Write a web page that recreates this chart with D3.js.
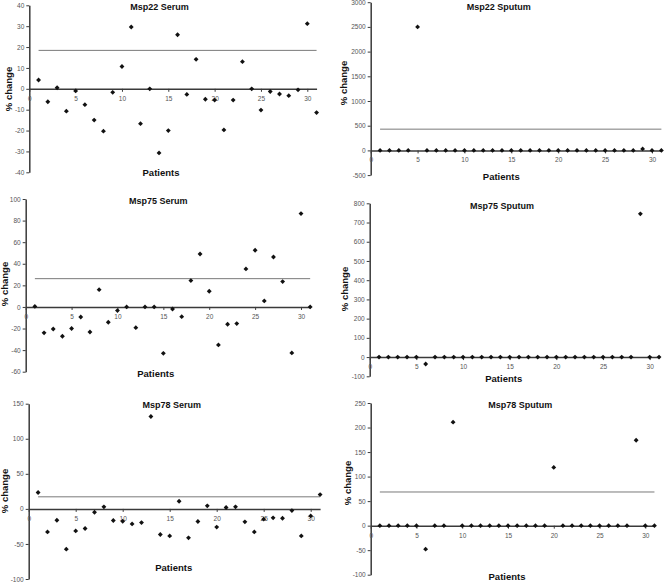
<!DOCTYPE html>
<html>
<head>
<meta charset="utf-8">
<script src="https://cdn.jsdelivr.net/npm/d3@7"></script>
<style>
  html, body { margin: 0; padding: 0; background: #fff; }
  svg { display: block; font-family: "Liberation Sans", Arial, sans-serif; }
</style>
</head>
<body>
<svg id="chart" width="664" height="582"></svg>
<script>
// ---- data ----
const patients = d3.range(1, 32);
const titles = ["Msp22 Serum", "Msp22 Sputum", "Msp75 Serum", "Msp75 Sputum", "Msp78 Serum", "Msp78 Sputum"];
const msp22Serum = [4.2, -6.2, 0.5, -10.7, -1, -7.6, -15, -20.3, -1.7, 10.7, 29.6, -16.7, 0, -30.7, -20, 25.9, -2.7, 14.1, -5, -5.4, -19.7, -5.4, 13, 0, -10.2, -1.3, -2.5, -3.3, -0.5, 31.2, -11.4];
const msp22Sputum = [0, 0, 0, 0, 2500, 0, 0, 0, 0, 0, 0, 0, 0, 0, 0, 0, 0, 0, 0, 0, 0, 0, 0, 0, 0, 0, 0, 0, 30, 0, 0];
const msp75Serum = [0.5, -24, -20.4, -27.2, -20, -9.3, -23.2, 16, -14.2, -3.4, 0, -19.2, 0, 0, -43, -1.9, -9, 24.4, 49, 14.5, -35.2, -16, -15.4, 35.2, 52.5, 5.6, 46.3, 23.5, -42.6, 86.5, 0];
const msp75Sputum = [0, 0, 0, 0, 0, -36, 0, 0, 0, 0, 0, 0, 0, 0, 0, 0, 0, 0, 0, 0, 0, 0, 0, 0, 0, 0, 0, 0, 745, 0, 0];
const msp78Serum = [23.3, -32.8, -16.2, -57.5, -31.4, -28, -4.8, 2.9, -16.6, -17.6, -21.4, -19.5, 131.7, -36.6, -38.5, 10.9, -41.3, -18, 4.3, -26, 1.9, 2.9, -18.5, -32.8, -14.7, -12.8, -13.3, -2.4, -38.5, -10, 20.4];
const msp78Sputum = [0, 0, 0, 0, 0, -48, 0, 0, 211, 0, 0, 0, 0, 0, 0, 0, 0, 0, 0, 118.7, 0, 0, 0, 0, 0, 0, 0, 0, 174, 0, 0];
const series = [msp22Serum, msp22Sputum, msp75Serum, msp75Sputum, msp78Serum, msp78Sputum];
const thresholds = [18.4, 430, 26.2, null, 17.2, 68.6];
const yDomains = [[-40, 40], [-500, 3000], [-60, 100], [-100, 800], [-100, 150], [-100, 250]];
const yTickSteps = [10, 500, 20, 100, 50, 50];
const xTickValues = [0, 5, 10, 15, 20, 25, 30];
const xLabel = "Patients";
const yLabel = "% change";

// ---- layout (pixel positions) ----
const layout = [
  { axisX: 29.3, x30: 307.3, yTop: 5.3, yBot: 172.3, titleX: 159.5, titleY: 7, patX: 161, patY: 172, labX: 8.5, labY: 89 },
  { axisX: 370.7, x30: 652, yTop: 2.2, yBot: 175.1, titleX: 498.7, titleY: 7, patX: 501.3, patY: 176.7, labX: 343.7, labY: 83 },
  { axisX: 25.7, x30: 301, yTop: 199, yBot: 371.7, titleX: 158.3, titleY: 200.7, patX: 155.7, patY: 373, labX: 4.5, labY: 284 },
  { axisX: 369.7, x30: 649.7, yTop: 203.3, yBot: 376.3, titleX: 502, titleY: 206.3, patX: 503.7, patY: 378, labX: 344.7, labY: 289 },
  { axisX: 28.7, x30: 310.7, yTop: 403.7, yBot: 579, titleX: 171.7, titleY: 404.7, patX: 173.7, patY: 567, labX: 4.5, labY: 491 },
  { axisX: 370.7, x30: 645.3, yTop: 403, yBot: 574.7, titleX: 520.3, titleY: 404.7, patX: 507, patY: 576.3, labX: 347, labY: 483 }
];

const svg = d3.select("#chart");
const axisColor = "#3a3a3a";
const tickTextColor = "#555";
const fmt = d => String(d);

series.forEach((vals, i) => {
  const L = layout[i];
  const x = d3.scaleLinear().domain([0, 31]).range([L.axisX, L.axisX + 31 * (L.x30 - L.axisX) / 30]);
  const y = d3.scaleLinear().domain(yDomains[i]).range([L.yBot, L.yTop]);
  const g = svg.append("g");

  // y axis
  const [y0, y1] = yDomains[i];
  const yTicks = d3.range(y0, y1 + yTickSteps[i] / 2, yTickSteps[i]);
  const ya = g.append("g").attr("transform", `translate(${L.axisX},0)`)
    .call(d3.axisLeft(y).tickValues(yTicks).tickFormat(fmt).tickSize(3).tickSizeOuter(0).tickPadding(2));
  ya.select(".domain").attr("stroke", axisColor).attr("stroke-width", 1.5);
  ya.selectAll(".tick line").attr("stroke", axisColor).attr("stroke-width", 1);
  ya.selectAll(".tick text").attr("fill", tickTextColor).style("font-size", "6.5px").style("font-family", "Liberation Sans, Arial, sans-serif");

  // x axis at zero
  const xa = g.append("g").attr("transform", `translate(0,${y(0)})`)
    .call(d3.axisBottom(x).tickValues(xTickValues).tickFormat(fmt).tickSize(3).tickSizeOuter(0).tickPadding(4.4));
  xa.select(".domain").attr("stroke", axisColor).attr("stroke-width", 1.5);
  xa.selectAll(".tick line").attr("stroke", axisColor).attr("stroke-width", 1);
  xa.selectAll(".tick text").attr("fill", tickTextColor).style("font-size", "6.5px").style("font-family", "Liberation Sans, Arial, sans-serif");

  // threshold line
  if (thresholds[i] !== null) {
    g.append("line")
      .attr("x1", x(1)).attr("x2", x(31))
      .attr("y1", y(thresholds[i])).attr("y2", y(thresholds[i]))
      .attr("stroke", "#7a7a7a").attr("stroke-width", 1);
  }

  // points
  g.selectAll("path.pt").data(vals).enter().append("path")
    .attr("class", "pt")
    .attr("d", d3.symbol().type(d3.symbolDiamond2).size(15))
    .attr("transform", (d, k) => `translate(${x(patients[k])},${y(d)})`)
    .attr("fill", "#111");

  // title
  g.append("text").attr("x", L.titleX).attr("y", L.titleY)
    .attr("text-anchor", "middle").attr("dominant-baseline", "central")
    .style("font-size", "9px").style("font-weight", "bold").attr("fill", "#111")
    .text(titles[i]);
  // x label
  g.append("text").attr("x", L.patX).attr("y", L.patY)
    .attr("text-anchor", "middle").attr("dominant-baseline", "central")
    .style("font-size", "9.5px").style("font-weight", "bold").attr("fill", "#111")
    .text(xLabel);
  // y label
  g.append("text").attr("transform", `translate(${L.labX},${L.labY}) rotate(-90)`)
    .attr("text-anchor", "middle").attr("dominant-baseline", "central")
    .style("font-size", "9.5px").style("font-weight", "bold").attr("fill", "#111")
    .text(yLabel);
});
</script>
</body>
</html>
